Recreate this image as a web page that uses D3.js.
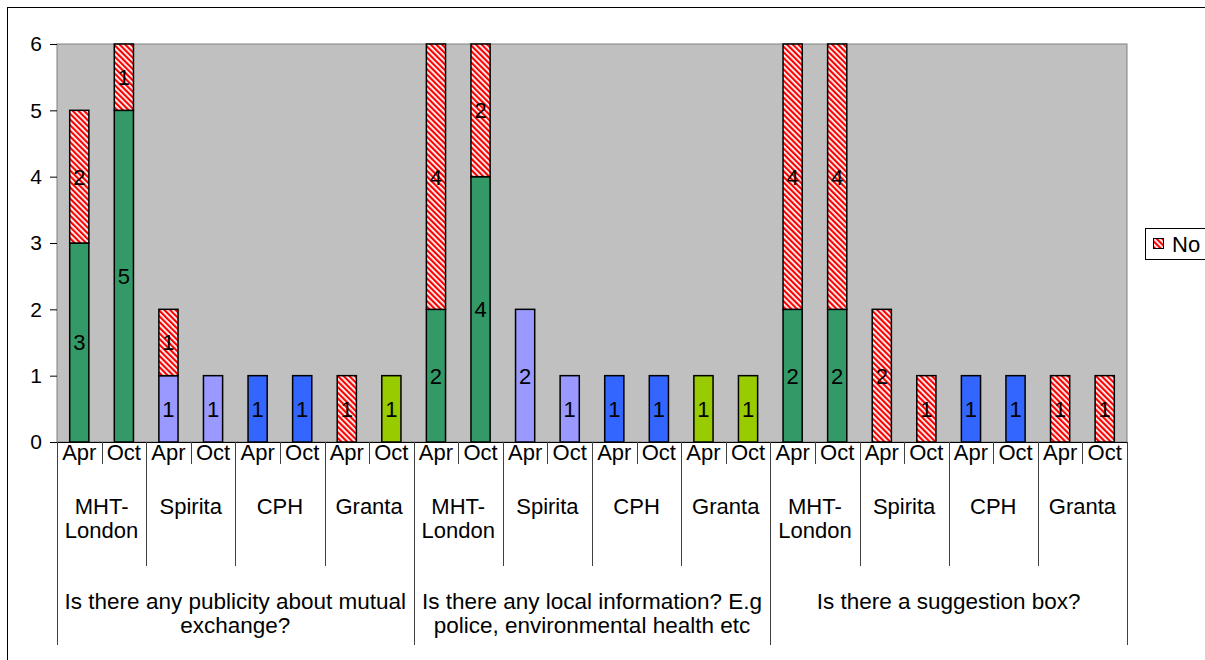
<!DOCTYPE html>
<html>
<head>
<meta charset="utf-8">
<script src="https://cdn.jsdelivr.net/npm/d3@7"></script>
<style>
  body { margin: 0; background: #fff; }
  text { font-family: "Liberation Sans", Arial, sans-serif; fill: #000; }
</style>
</head>
<body>
<svg id="chart"></svg>
<script>
// chart data
const groups = [
  ["Is there any publicity about mutual", "exchange?"],
  ["Is there any local information? E.g", "police, environmental health etc"],
  ["Is there a suggestion box?"]
];
const orgs = [["MHT-", "London"], ["Spirita"], ["CPH"], ["Granta"]];
const months = ["Apr", "Oct"];
const orgColors = ["#339966", "#9999FF", "#3366FF", "#99CC00"];

// one value per Apr/Oct column, in order group > org > month
const yesValues = [3, 5, 1, 1, 1, 1, 0, 1,
                   2, 4, 2, 1, 1, 1, 1, 1,
                   2, 2, 0, 0, 1, 1, 0, 0];
const noValues = [2, 1, 1, 0, 0, 0, 1, 0,
                  4, 2, 0, 0, 0, 0, 0, 0,
                  4, 4, 2, 1, 0, 0, 1, 1];
const yTicks = [0, 1, 2, 3, 4, 5, 6];

const width = 1205, height = 660;
const plot = { left: 57, right: 1127, top: 44, bottom: 442 };

let svg = d3.select("#chart").attr("width", width).attr("height", height);

// hatch for the "No" series
let defs = svg.append("defs");
let pat = defs.append("pattern")
  .attr("id", "hatch")
  .attr("patternUnits", "userSpaceOnUse")
  .attr("width", 4)
  .attr("height", 4)
  .attr("patternTransform", "rotate(-45)");
pat.append("rect").attr("width", 4).attr("height", 4).attr("fill", "#fff");
pat.append("rect").attr("width", 2.2).attr("height", 4).attr("fill", "#FF0000");

// outer frame
svg.append("rect")
  .attr("x", 7.5).attr("y", 7.5)
  .attr("width", width).attr("height", height)
  .attr("fill", "#fff").attr("stroke", "#000");

let cols = d3.range(yesValues.length);

let x = d3.scaleBand().domain(cols).range([plot.left, plot.right]).padding(0);
let y = d3.scaleLinear().domain([0, 6]).range([plot.bottom, plot.top]);

let barW = x.bandwidth() * 0.43;

svg.append("rect")
  .attr("x", plot.left).attr("y", plot.top)
  .attr("width", plot.right - plot.left).attr("height", plot.bottom - plot.top)
  .attr("fill", "#C0C0C0").attr("stroke", "#808080");

// y axis
let yAxis = svg.append("g")
  .attr("transform", `translate(${plot.left},0)`)
  .call(d3.axisLeft(y).tickValues(yTicks).tickSize(7).tickPadding(8).tickFormat(d3.format("d")));
yAxis.select(".domain").remove();
yAxis.selectAll("line").attr("stroke", "#000");
yAxis.selectAll("text").attr("font-size", 21).attr("font-family", "Liberation Sans, Arial, sans-serif");

// bars
let orgOf = i => Math.floor(i / 2) % 4;
let bars = svg.append("g");

cols.forEach(i => {
  let cx = x(i) + x.bandwidth() / 2;
  let yes = yesValues[i], no = noValues[i];
  let segs = [];
  if (yes > 0) segs.push({ from: 0, to: yes, fill: orgColors[orgOf(i)] });
  if (no > 0) segs.push({ from: yes, to: yes + no, fill: "url(#hatch)" });
  segs.forEach(s => {
    bars.append("rect")
      .attr("x", cx - barW / 2)
      .attr("y", y(s.to))
      .attr("width", barW)
      .attr("height", y(s.from) - y(s.to))
      .attr("fill", s.fill)
      .attr("stroke", "#000")
      .attr("stroke-width", 1.5);
  });
  segs.forEach(s => {
    bars.append("text")
      .attr("x", cx)
      .attr("y", y((s.from + s.to) / 2))
      .attr("dy", "0.36em")
      .attr("text-anchor", "middle")
      .attr("font-size", 22)
      .text(s.to - s.from);
  });
});

// x axis line
svg.append("line")
  .attr("x1", plot.left).attr("x2", plot.right)
  .attr("y1", plot.bottom + 0.5).attr("y2", plot.bottom + 0.5)
  .attr("stroke", "#000");

// multi-level category labels
let cat = svg.append("g");
let divider = (xPos, y2) => cat.append("line")
  .attr("x1", xPos).attr("x2", xPos)
  .attr("y1", plot.bottom).attr("y2", y2)
  .attr("stroke", "#404040");

cols.forEach(i => {
  let cx = x(i) + x.bandwidth() / 2;
  cat.append("text")
    .attr("x", cx).attr("y", 452).attr("dy", "0.36em")
    .attr("text-anchor", "middle").attr("font-size", 22)
    .text(months[i % 2]);
  let xl = Math.round(x(i)) + 0.5;
  if (i % 8 === 0) divider(xl, 645);
  else if (i % 2 === 0) divider(xl, 566);
  else divider(xl, 464);
});
divider(Math.round(plot.right) + 0.5, 645);

d3.range(12).forEach(k => {
  let cx = x(k * 2) + x.bandwidth();
  orgs[k % 4].forEach((line, j) => {
    cat.append("text")
      .attr("x", cx).attr("y", 506 + j * 24).attr("dy", "0.36em")
      .attr("text-anchor", "middle").attr("font-size", 22)
      .text(line);
  });
});

groups.forEach((lines, g) => {
  let cx = x(g * 8) + x.bandwidth() * 4;
  lines.forEach((line, j) => {
    cat.append("text")
      .attr("x", cx).attr("y", 601 + j * 24).attr("dy", "0.36em")
      .attr("text-anchor", "middle").attr("font-size", 22.5)
      .text(line);
  });
});

// legend (cut off at the right edge like the original)
let legend = svg.append("g");
legend.append("rect")
  .attr("x", 1145.5).attr("y", 228.5)
  .attr("width", 80).attr("height", 31)
  .attr("fill", "#fff").attr("stroke", "#000");
legend.append("rect")
  .attr("x", 1153.5).attr("y", 238.5)
  .attr("width", 10).attr("height", 10)
  .attr("fill", "url(#hatch)").attr("stroke", "#000");
legend.append("text")
  .attr("x", 1172).attr("y", 244).attr("dy", "0.36em")
  .attr("font-size", 22)
  .text("No");
</script>
</body>
</html>
